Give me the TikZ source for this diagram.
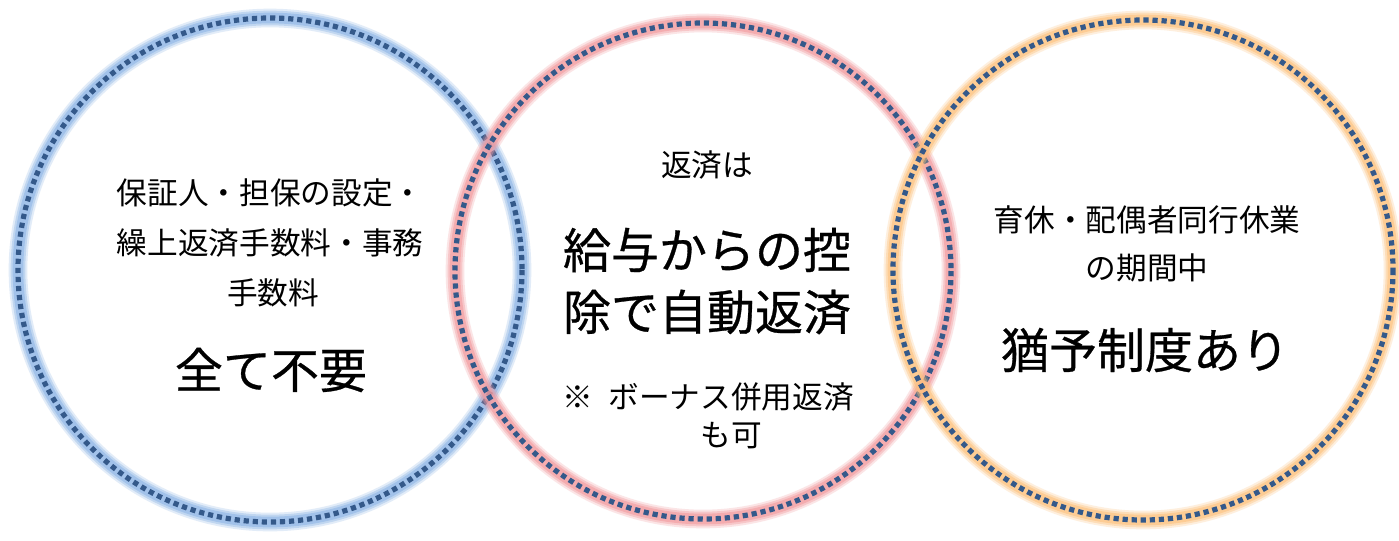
\documentclass[tikz,border=0pt]{standalone}
\usepackage{fontspec}
\setmainfont{Noto Sans CJK JP}
\newfontfamily\bigfont[FakeBold=0.6]{Noto Sans CJK JP}
\definecolor{dotc}{HTML}{34598A}
\definecolor{glowB}{HTML}{8EB6E6}
\definecolor{glowR}{HTML}{F29A9E}
\definecolor{glowO}{HTML}{FDC27E}
\tikzset{
  small/.style={font=\fontsize{23}{26}\selectfont, inner sep=0pt, anchor=center},
  big/.style={font=\bigfont\fontsize{36}{40}\selectfont, inner sep=0pt, anchor=center},
  dots/.style={draw=dotc, line width=3.9pt, dash pattern=on 3.9pt off 2.9pt, line cap=butt},
}
\newcommand{\glowring}[4]{%
  \draw[#4, opacity=0.25, line width=14pt] (#1,#2) circle[radius=#3];
  \draw[#4, opacity=0.4, line width=11pt] (#1,#2) circle[radius=#3];
  \draw[#4, opacity=0.6, line width=8pt] (#1,#2) circle[radius=#3];
}
\begin{document}
\begin{tikzpicture}[x=0.75pt,y=-0.75pt]
\useasboundingbox (0,0) rectangle (1399,540);
\fill[white] (0,0) rectangle (1399,540);
% circles
\glowring{270}{270}{252}{glowB}
\draw[dots] (270,270) circle[radius=252];
\glowring{703}{271}{248}{glowR}
\draw[dots] (703,271) circle[radius=248];
\glowring{1143}{270}{250}{glowO}
\draw[dots] (1143,270) circle[radius=250];
% left texts
\node[small] (l1) at (270,193) {保証人・担保の設定・};
\node[small] (l2) at (270,243) {繰上返済手数料・事務};
\node[small] (l3) at (273,293) {手数料};
\node[big] (l4) at (271,370) {全て不要};
% middle texts
\node[small] (m1) at (707,165) {返済は};
\node[big] (m2) at (707,250) {給与からの控};
\node[big] (m3) at (707,312) {除で自動返済};
\node[small] (m4) at (708,397) {※\hspace{0.5em}ボーナス併用返済};
\node[small] (m5) at (731,436) {も可};
% right texts
\node[small] (r1) at (1147,220) {育休・配偶者同行休業};
\node[small] (r2) at (1147,268) {の期間中};
\node[big] (r3) at (1145,350) {猶予制度あり};
\end{tikzpicture}
\end{document}
